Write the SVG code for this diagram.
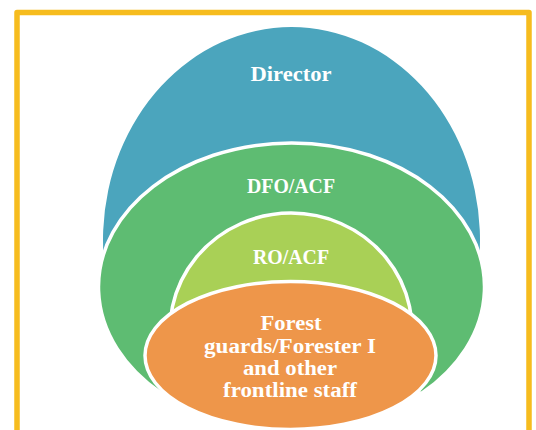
<svg xmlns="http://www.w3.org/2000/svg" width="536" height="430" viewBox="0 0 536 430">
  <style>
    .lbl { font-family: "Liberation Serif", "Times New Roman", serif; font-weight: bold; font-size: 20px; fill: #ffffff; text-anchor: middle; }
    .ring { stroke: #ffffff; stroke-width: 3.5; stroke-linejoin: round; }
  </style>
  <rect width="536" height="430" fill="#ffffff"/>
  <g id="frame">
    <path d="M17,432 V12.5 H529 V432" fill="none" stroke="#F6BC1E" stroke-width="5.5" stroke-linejoin="round"/>
  </g>
  <g id="director">
    <path d="M149.4,380 A188.5,213 0 1 1 433.6,380 Z" fill="#4BA5BD"/>
    <text class="lbl" x="291" y="81" textLength="81" lengthAdjust="spacingAndGlyphs">Director</text>
  </g>
  <g id="dfo">
    <path class="ring" d="M160.9,393 A193,144 0 1 1 422.1,393 Z" fill="#5EBC72"/>
    <text class="lbl" x="291" y="193" textLength="88" lengthAdjust="spacingAndGlyphs">DFO/ACF</text>
  </g>
  <g id="ro">
    <path class="ring" d="M173,356 A121,117 0 1 1 409,356 Z" fill="#A9D056"/>
    <text class="lbl" x="291" y="264" textLength="76" lengthAdjust="spacingAndGlyphs">RO/ACF</text>
  </g>
  <g id="forest-guards">
    <ellipse class="ring" cx="290.5" cy="355.5" rx="145.5" ry="74" fill="#EE964A"/>
    <text class="lbl" x="291" y="330" textLength="61" lengthAdjust="spacingAndGlyphs">Forest</text>
    <text class="lbl" x="290" y="353" textLength="172" lengthAdjust="spacingAndGlyphs">guards/Forester I</text>
    <text class="lbl" x="290" y="375" textLength="94" lengthAdjust="spacingAndGlyphs">and other</text>
    <text class="lbl" x="290" y="397" textLength="134" lengthAdjust="spacingAndGlyphs">frontline staff</text>
  </g>
  <g id="connectors"></g>
</svg>
